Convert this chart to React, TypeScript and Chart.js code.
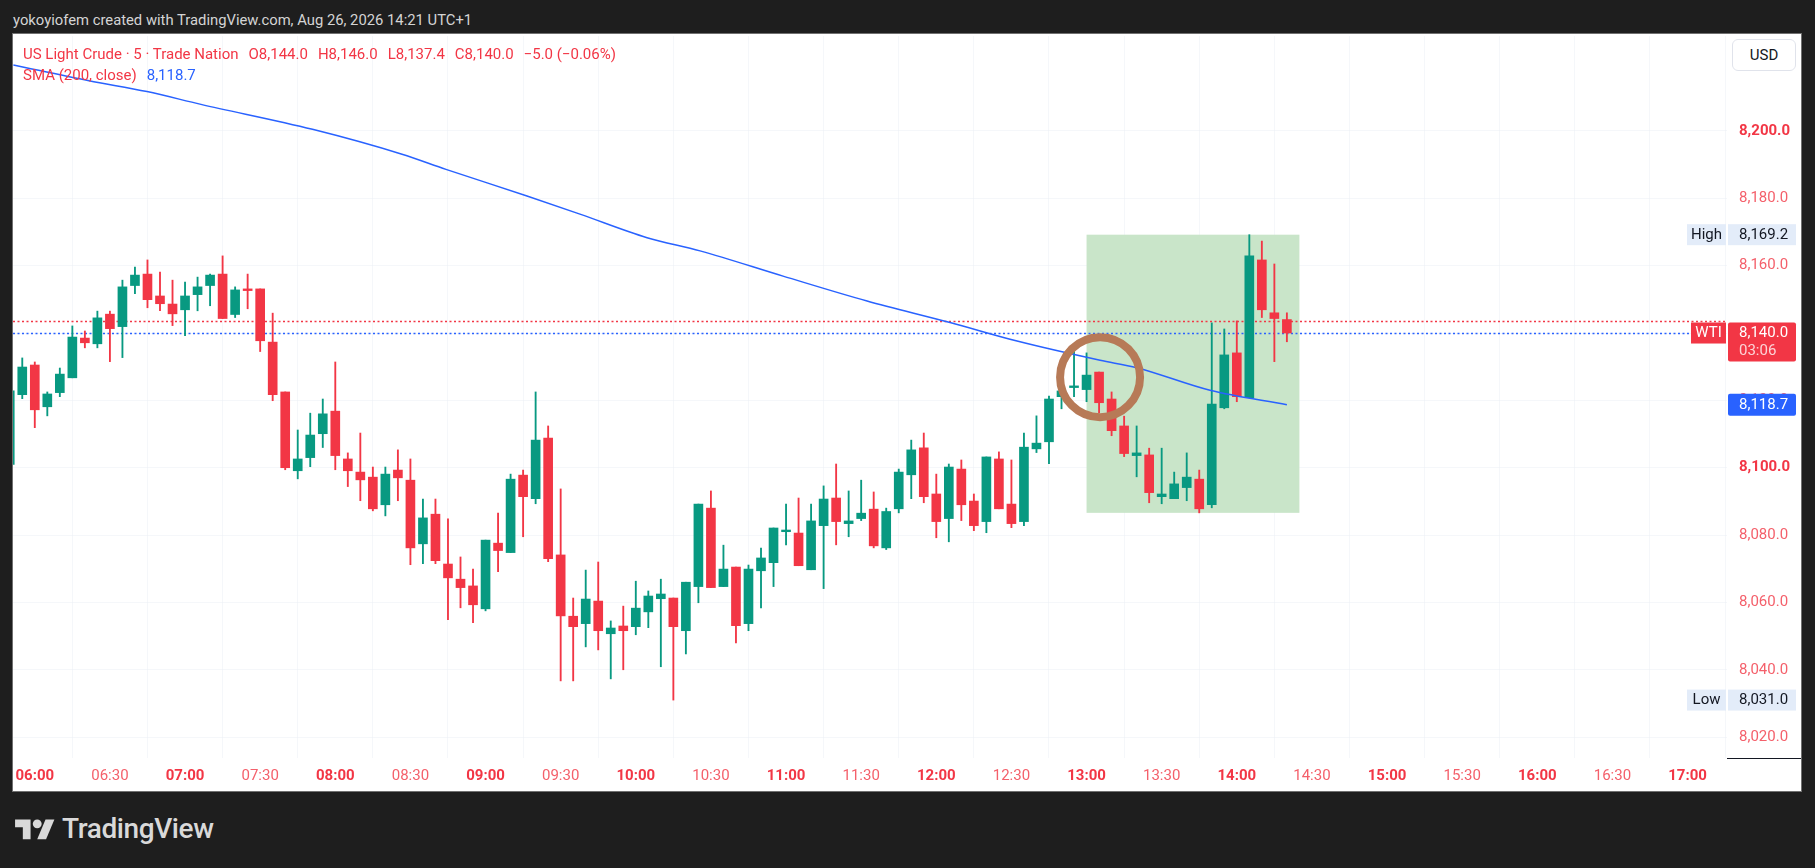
import React, { useEffect, useRef } from "react";
import { Chart, registerables } from "chart.js";

Chart.register(...registerables);

const FONT = "Roboto, 'Liberation Sans', Arial, sans-serif";
const UP = "#089981";
const DOWN = "#f23645";
const SMA_BLUE = "#2962ff";

// 5-minute candles, slot 0 = 05:50 (partly hidden at the left edge), last = 14:20
const opens = [
  8101.0, 8121.7, 8130.5, 8118.1, 8122.3, 8126.7, 8138.5, 8136.8, 8145.6, 8141.9,
  8154.1, 8157.5, 8151.0, 8148.6, 8146.9, 8151.4, 8154.1, 8157.5, 8145.5, 8153.1,
  8153.1, 8137.3, 8122.5, 8099.1, 8103.0, 8110.1, 8116.8, 8102.6, 8098.7, 8097.2,
  8089.0, 8099.3, 8096.3, 8077.4, 8086.2, 8071.4, 8066.9, 8064.9, 8058.1, 8077.6,
  8074.8, 8097.8, 8090.8, 8108.8, 8074.1, 8055.9, 8053.7, 8060.4, 8050.7, 8053.0,
  8052.8, 8057.2, 8061.1, 8061.3, 8051.6, 8064.7, 8088.0, 8064.7, 8070.5, 8053.7,
  8069.4, 8071.8, 8081.0, 8080.6, 8069.7, 8082.8, 8091.0, 8083.4, 8084.9, 8087.7,
  8076.2, 8087.8, 8097.9, 8105.9, 8092.2, 8084.9, 8099.6, 8090.1, 8084.0, 8102.6,
  8089.2, 8084.0, 8105.6, 8107.7, 8121.1, 8123.8, 8123.2, 8128.4, 8120.4, 8112.4,
  8103.6, 8103.8, 8091.4, 8090.8, 8094.1, 8096.6, 8089.0, 8117.8, 8134.1, 8120.8,
  8161.7, 8146.0, 8144.0,
];
const highs = [
  8124.0, 8132.6, 8131.4, 8122.5, 8129.6, 8142.1, 8140.6, 8146.5, 8146.5, 8155.7,
  8159.6, 8161.7, 8158.1, 8155.7, 8155.1, 8156.6, 8157.5, 8162.9, 8153.7, 8157.5,
  8153.1, 8145.9, 8122.5, 8111.2, 8116.2, 8120.4, 8131.4, 8104.4, 8110.3, 8100.2,
  8100.2, 8105.3, 8102.6, 8090.7, 8090.7, 8084.8, 8073.5, 8069.9, 8078.5, 8086.5,
  8098.1, 8099.3, 8122.5, 8112.4, 8093.7, 8061.3, 8069.6, 8072.0, 8054.5, 8058.9,
  8066.3, 8063.4, 8066.9, 8061.3, 8066.0, 8089.2, 8093.1, 8077.0, 8070.5, 8071.1,
  8076.1, 8082.1, 8089.2, 8091.0, 8089.2, 8094.6, 8101.1, 8093.1, 8096.3, 8092.8,
  8088.0, 8099.6, 8108.2, 8110.3, 8098.1, 8101.1, 8102.3, 8092.2, 8103.2, 8104.7,
  8102.3, 8110.3, 8115.4, 8121.3, 8123.8, 8134.7, 8134.1, 8128.4, 8122.5, 8115.3,
  8112.4, 8105.8, 8105.8, 8098.7, 8104.4, 8099.3, 8143.0, 8141.2, 8143.6, 8169.2,
  8167.3, 8160.5, 8146.0,
];
const lows = [
  8099.0, 8120.5, 8111.9, 8115.4, 8121.1, 8126.7, 8135.6, 8135.6, 8131.5, 8132.7,
  8151.7, 8147.5, 8146.6, 8142.2, 8139.2, 8146.6, 8148.1, 8144.3, 8144.6, 8147.2,
  8134.5, 8119.9, 8099.4, 8096.7, 8100.3, 8106.0, 8099.4, 8094.4, 8090.2, 8087.2,
  8085.7, 8090.2, 8071.2, 8071.5, 8071.5, 8054.9, 8058.4, 8054.0, 8057.5, 8069.1,
  8074.8, 8079.5, 8089.3, 8072.1, 8036.7, 8036.7, 8046.8, 8045.9, 8037.3, 8040.0,
  8050.4, 8052.5, 8040.9, 8031.0, 8044.7, 8059.9, 8064.4, 8064.7, 8048.0, 8051.6,
  8058.4, 8064.7, 8077.1, 8070.9, 8069.7, 8064.1, 8077.1, 8079.5, 8084.3, 8076.2,
  8075.7, 8086.6, 8090.8, 8089.6, 8079.2, 8078.0, 8084.3, 8081.3, 8080.7, 8087.8,
  8082.2, 8082.8, 8104.5, 8101.2, 8117.5, 8121.1, 8119.6, 8116.3, 8109.5, 8103.3,
  8097.3, 8089.6, 8089.3, 8090.8, 8090.2, 8086.6, 8088.1, 8117.5, 8119.6, 8120.8,
  8144.6, 8131.5, 8137.4,
];
const closes = [
  8122.8, 8129.9, 8117.2, 8121.9, 8127.8, 8138.8, 8137.1, 8144.5, 8141.3, 8153.7,
  8157.2, 8149.9, 8148.7, 8145.7, 8151.0, 8153.7, 8157.2, 8144.3, 8152.8, 8152.6,
  8137.7, 8121.7, 8100.0, 8102.6, 8109.7, 8116.0, 8103.6, 8099.1, 8096.4, 8087.8,
  8098.1, 8097.0, 8076.2, 8085.1, 8072.4, 8067.3, 8064.4, 8059.3, 8078.5, 8075.4,
  8096.6, 8091.4, 8108.2, 8073.0, 8056.0, 8052.8, 8061.0, 8051.6, 8052.4, 8051.6,
  8058.3, 8061.9, 8062.5, 8052.8, 8066.0, 8089.2, 8064.4, 8069.9, 8053.1, 8069.9,
  8073.2, 8082.1, 8081.5, 8070.9, 8084.2, 8090.7, 8084.0, 8084.2, 8086.5, 8076.8,
  8087.0, 8098.7, 8105.3, 8091.4, 8084.0, 8100.2, 8089.0, 8082.8, 8103.2, 8087.8,
  8083.4, 8106.1, 8107.3, 8120.4, 8122.8, 8124.3, 8127.5, 8119.3, 8111.0, 8104.2,
  8104.4, 8092.6, 8092.2, 8095.2, 8097.2, 8087.8, 8118.9, 8133.5, 8121.1, 8162.9,
  8146.9, 8144.3, 8140.0,
];

// SMA(200): slot position and value
const smaSlots = [0.29, 6.33, 10.96, 15.27, 24.18, 31.33, 34.84, 41.31, 45.54, 50.9, 55.13, 61.76, 68.47, 75.1, 80.45, 87.08, 90.0, 95.86, 102.0];
const smaValues = [8219.6, 8214.9, 8211.7, 8207.9, 8200.5, 8193.1, 8188.6, 8180.7, 8175.3, 8168.3, 8164.4, 8156.9, 8149.5, 8143.1, 8137.6, 8131.9, 8129.7, 8123.0, 8118.7];

const timeTicks = ["06:00", "06:30", "07:00", "07:30", "08:00", "08:30", "09:00", "09:30", "10:00", "10:30", "11:00", "11:30", "12:00", "12:30", "13:00", "13:30", "14:00", "14:30", "15:00", "15:30", "16:00", "16:30", "17:00"];
const priceTicks = [8020, 8040, 8060, 8080, 8100, 8120, 8140, 8160, 8180, 8200];

const LAST_CLOSE = 8140.0;
const PREV_LINE = 8143.5;
const SMA_LAST = 8118.7;
const HIGH = 8169.2;
const LOW = 8031.0;
const BOX_FROM = 86;
const BOX_TO = 103;
const BOX_LOW = 8086.6;
const CIRCLE_SLOT = 87.08;
const CIRCLE_PRICE = 8126.9;

const fmt = (v: number) => v.toLocaleString("en-US", { minimumFractionDigits: 1, maximumFractionDigits: 1 });

const zeroPad = (s: any) => {
  s.paddingTop = 0;
  s.paddingBottom = 0;
  s.paddingLeft = 0;
  s.paddingRight = 0;
};

const overlayPlugin = {
  id: "overlay",
  beforeDatasetsDraw(chart: any) {
    const { ctx, chartArea, scales } = chart;
    const x = scales.x, y = scales.y;
    ctx.save();
    ctx.beginPath();
    ctx.rect(chartArea.left, chartArea.top, chartArea.right - chartArea.left, chartArea.bottom - chartArea.top);
    ctx.clip();
    // highlight box
    const x0 = x.getPixelForValue(BOX_FROM), x1 = x.getPixelForValue(BOX_TO);
    const y0 = y.getPixelForValue(HIGH), y1 = y.getPixelForValue(BOX_LOW);
    ctx.fillStyle = "rgb(201,229,201)";
    ctx.fillRect(x0, y0, x1 - x0, y1 - y0);
    // dotted price lines
    ctx.lineWidth = 1.3;
    ctx.setLineDash([2, 2.5]);
    const yr = Math.round(y.getPixelForValue(PREV_LINE)) + 0.5;
    ctx.strokeStyle = DOWN;
    ctx.beginPath(); ctx.moveTo(chartArea.left, yr); ctx.lineTo(chartArea.right, yr); ctx.stroke();
    const yb = Math.round(y.getPixelForValue(LAST_CLOSE)) + 0.5;
    ctx.strokeStyle = SMA_BLUE;
    ctx.beginPath(); ctx.moveTo(chartArea.left, yb); ctx.lineTo(chartArea.right, yb); ctx.stroke();
    ctx.restore();
  },
  afterDatasetsDraw(chart: any) {
    const { ctx, scales } = chart;
    const cx = scales.x.getPixelForValue(CIRCLE_SLOT);
    const cy = scales.y.getPixelForValue(CIRCLE_PRICE);
    ctx.save();
    ctx.strokeStyle = "rgb(183,122,87)";
    ctx.lineWidth = 8;
    ctx.beginPath();
    ctx.arc(cx, cy, 40, 0, Math.PI * 2);
    ctx.stroke();
    ctx.restore();
  },
  afterDraw(chart: any) {
    const { ctx, chartArea, scales, width } = chart;
    const y = scales.y;
    const R = chartArea.right;
    ctx.save();
    ctx.textBaseline = "middle";
    ctx.font = `15px ${FONT}`;
    // axis corner line
    ctx.strokeStyle = "#131722";
    ctx.lineWidth = 1;
    ctx.beginPath();
    ctx.moveTo(R, Math.round(chartArea.bottom) + 0.5);
    ctx.lineTo(width, Math.round(chartArea.bottom) + 0.5);
    ctx.stroke();

    const tag = (price: number, label: string) => {
      const cy = y.getPixelForValue(price);
      ctx.fillStyle = "#e3ecf9";
      ctx.fillRect(R - 40, cy - 10.5, 39, 21);
      ctx.fillRect(R + 1, cy - 10.5, 68, 21);
      ctx.fillStyle = "#131722";
      ctx.textAlign = "center";
      ctx.fillText(label, R - 20.5, cy + 0.5);
      ctx.textAlign = "left";
      ctx.fillText(fmt(price), R + 12, cy + 0.5);
    };
    tag(HIGH, "High");
    tag(LOW, "Low");

    // last price
    const cl = y.getPixelForValue(LAST_CLOSE);
    ctx.fillStyle = DOWN;
    ctx.fillRect(R - 36, cl - 10.5, 35, 21);
    ctx.beginPath();
    ctx.roundRect(R + 1, cl - 10.5, 68, 39, 2);
    ctx.fill();
    ctx.fillStyle = "#ffffff";
    ctx.textAlign = "center";
    ctx.fillText("WTI", R - 18.5, cl + 0.5);
    ctx.textAlign = "left";
    ctx.fillText(fmt(LAST_CLOSE), R + 12, cl + 0.5);
    ctx.fillStyle = "rgba(255,255,255,0.78)";
    ctx.fillText("03:06", R + 12, cl + 18.5);

    // SMA value
    const cs = y.getPixelForValue(SMA_LAST);
    ctx.fillStyle = SMA_BLUE;
    ctx.beginPath();
    ctx.roundRect(R + 1, cs - 11, 68, 22, 2);
    ctx.fill();
    ctx.fillStyle = "#ffffff";
    ctx.fillText(fmt(SMA_LAST), R + 12, cs + 0.5);
    ctx.restore();
  },
};

export default function App() {
  const ref = useRef<HTMLCanvasElement | null>(null);

  useEffect(() => {
    document.body.style.margin = "0";
    document.body.style.background = "#1e1e1e";
    Chart.defaults.font.family = FONT;
    const idx = opens.map((_, i) => i);
    const colors = idx.map((i) => (closes[i] >= opens[i] ? UP : DOWN));
    const chart = new Chart(ref.current as HTMLCanvasElement, {
      type: "bar",
      data: {
        datasets: [
          {
            type: "line",
            data: smaSlots.map((s, i) => ({ x: s, y: smaValues[i] })),
            borderColor: SMA_BLUE,
            borderWidth: 1.5,
            pointRadius: 0,
            cubicInterpolationMode: "monotone",
            order: 0,
          } as any,
          {
            data: idx.map((i) => ({ x: i, y: [opens[i], closes[i]] })),
            backgroundColor: colors,
            barThickness: 9,
            minBarLength: 1.5,
            grouped: false,
            borderWidth: 0,
            order: 1,
          } as any,
          {
            data: idx.map((i) => ({ x: i, y: [lows[i], highs[i]] })),
            backgroundColor: colors,
            barThickness: 1.2,
            grouped: false,
            borderWidth: 0,
            order: 2,
          } as any,
        ],
      },
      options: {
        animation: false,
        responsive: false,
        maintainAspectRatio: false,
        layout: { autoPadding: false, padding: { top: 2, left: 0, right: 0, bottom: 0 } },
        plugins: { legend: { display: false }, tooltip: { enabled: false } },
        scales: {
          x: {
            type: "linear",
            min: 0.26,
            max: 137.15,
            offset: false,
            grid: { color: "rgba(236,239,245,0.5)", drawTicks: false },
            border: { display: false },
            afterBuildTicks: (s: any) => {
              s.ticks = timeTicks.map((_, i) => ({ value: 2 + 6 * i }));
            },
            afterFit: (s: any) => {
              s.height = 33;
              zeroPad(s);
            },
            ticks: {
              autoSkip: false,
              maxRotation: 0,
              padding: 9,
              callback: (_v: any, i: number) => timeTicks[i],
              font: (c: any) => ({ family: FONT, size: 15, weight: c.index % 2 === 0 ? "bold" : "normal" }),
              color: (c: any) => (c.index % 2 === 0 ? "#f23645" : "#f4606b"),
            },
          },
          y: {
            type: "linear",
            position: "right",
            min: 8013.8,
            max: 8228.2,
            grid: { color: "rgba(236,239,245,0.5)", drawTicks: false },
            border: { display: false },
            afterBuildTicks: (s: any) => {
              s.ticks = priceTicks.map((v) => ({ value: v }));
            },
            afterFit: (s: any) => {
              s.width = 74;
              zeroPad(s);
            },
            ticks: {
              padding: 12,
              callback: (v: any) => fmt(Number(v)),
              font: (c: any) => ({ family: FONT, size: 15, weight: c.tick && c.tick.value % 100 === 0 ? "bold" : "normal" }),
              color: (c: any) => (c.tick && c.tick.value % 100 === 0 ? "#f23645" : "#f4606b"),
            },
          },
        },
      } as any,
      plugins: [overlayPlugin],
    });
    return () => chart.destroy();
  }, []);

  return (
    <div style={{ position: "relative", width: 1815, height: 868, background: "#1e1e1e", overflow: "hidden", fontFamily: FONT }}>
      <div style={{ position: "absolute", left: 13, top: 9, fontSize: 14.8, lineHeight: "22px", color: "#d4d4d4", whiteSpace: "nowrap" }}>
        yokoyiofem created with TradingView.com, Aug 26, 2026 14:21 UTC+1
      </div>
      <div style={{ position: "absolute", left: 12, top: 33, width: 1788, height: 757, border: "1px solid #707070", background: "#ffffff" }}>
        <canvas ref={ref} width={1788} height={757} style={{ display: "block", width: 1788, height: 757 }} />
        <div style={{ position: "absolute", left: 10, top: 10, fontSize: 15, lineHeight: "20px", color: "#f23645", whiteSpace: "nowrap" }}>
          <span>US Light Crude · 5 · Trade Nation</span>
          <span style={{ marginLeft: 10 }}>O8,144.0</span>
          <span style={{ marginLeft: 10 }}>H8,146.0</span>
          <span style={{ marginLeft: 10 }}>L8,137.4</span>
          <span style={{ marginLeft: 10 }}>C8,140.0</span>
          <span style={{ marginLeft: 10 }}>−5.0 (−0.06%)</span>
        </div>
        <div style={{ position: "absolute", left: 10, top: 31, fontSize: 15, lineHeight: "20px", color: "#f23645", whiteSpace: "nowrap" }}>
          <span>SMA (200, close)</span>
          <span style={{ marginLeft: 10, color: SMA_BLUE }}>8,118.7</span>
        </div>
        <div style={{ position: "absolute", left: 1719, top: 5, width: 62, height: 30, border: "1px solid #e0e3eb", borderRadius: 6, background: "#fff", color: "#131722", fontSize: 15, lineHeight: "30px", textAlign: "center" }}>
          USD
        </div>
      </div>
      <div style={{ position: "absolute", left: 15, top: 815, display: "flex", alignItems: "center" }}>
        <svg width="40" height="31" viewBox="0 0 36 28" style={{ display: "block" }}>
          <path d="M14 22H7V11H0V4h14v18z" fill="#d9d9d9" />
          <circle cx="20" cy="8" r="4" fill="#d9d9d9" />
          <path d="M28 22h-8l7.5-18h8L28 22z" fill="#d9d9d9" />
        </svg>
      </div>
      <div style={{ position: "absolute", left: 62, top: 811, fontSize: 28, fontWeight: 500, color: "#d9d9d9", lineHeight: "36px", letterSpacing: -0.4 }}>
        TradingView
      </div>
    </div>
  );
}
